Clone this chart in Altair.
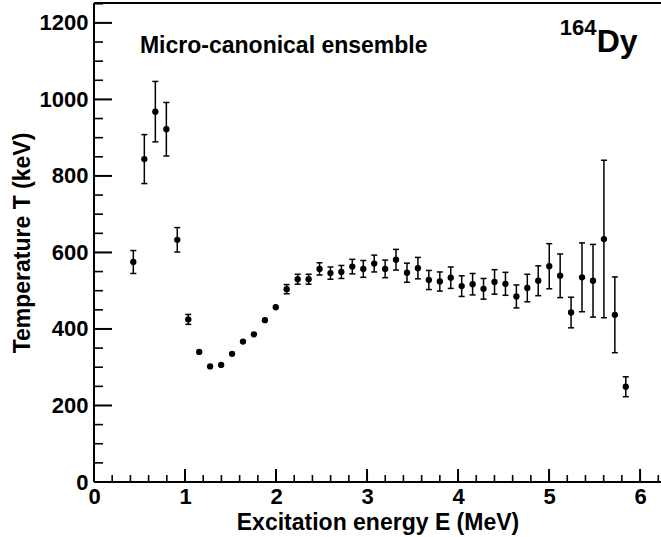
import altair as alt
import pandas as pd

# Data
energy = [0.432, 0.553, 0.674, 0.795, 0.915, 1.036, 1.156, 1.276, 1.397, 1.517,
          1.637, 1.757, 1.878, 1.997, 2.117, 2.238, 2.358, 2.478, 2.598, 2.718,
          2.838, 2.959, 3.079, 3.199, 3.318, 3.439, 3.559, 3.679, 3.800, 3.920,
          4.040, 4.160, 4.280, 4.401, 4.521, 4.641, 4.761, 4.881, 5.002, 5.122,
          5.242, 5.362, 5.483, 5.603, 5.723, 5.843]
temperature = [575, 844, 968, 922, 633, 425, 340, 302, 306, 335,
               367, 386, 423, 457, 504, 530, 530, 557, 546, 549,
               563, 557, 571, 557, 581, 547, 559, 528, 524, 534,
               512, 517, 505, 523, 518, 485, 507, 526, 564, 539,
               443, 535, 526, 635, 437, 249]
error = [30, 64, 79, 70, 32, 13, 5, 5, 5, 5,
         5, 6, 7, 8, 12, 13, 13, 16, 16, 17,
         19, 22, 22, 23, 27, 25, 28, 25, 25, 28,
         27, 28, 27, 32, 30, 30, 36, 39, 59, 57,
         40, 90, 95, 206, 99, 26]

x_major = [0, 1, 2, 3, 4, 5, 6]
x_minor = [round(0.2 * i, 1) for i in range(32) if i % 5 != 0]
y_major = [0, 200, 400, 600, 800, 1000, 1200]
y_minor = [50 * i for i in range(26) if i % 4 != 0]

X_MAX = 6.23
Y_MAX = 1252
W, H = 567, 479
FONT = "Liberation Sans"

df = pd.DataFrame({"E": energy, "T": temperature, "err": error})
df["lo"] = df["T"] - df["err"]
df["hi"] = df["T"] + df["err"]

xs = alt.Scale(domain=[0, X_MAX], nice=False, zero=False)
ys = alt.Scale(domain=[0, Y_MAX], nice=False, zero=False)

x_axis = alt.Axis(values=x_major, title="Excitation energy E (MeV)", grid=False,
                  domain=False, ticks=False, tickSize=0, labelPadding=4,
                  labelFlush=False, labelOverlap=False, format="d",
                  labelFont=FONT, labelFontWeight="bold", labelFontSize=22,
                  titleFont=FONT, titleFontWeight="bold", titleFontSize=23,
                  titlePadding=4, labelColor="black", titleColor="black")
y_axis = alt.Axis(values=y_major, title="Temperature T (keV)", grid=False,
                  domain=False, ticks=False, tickSize=0, labelPadding=6,
                  labelOverlap=False, format="d",
                  labelFont=FONT, labelFontWeight="bold", labelFontSize=22,
                  titleFont=FONT, titleFontWeight="bold", titleFontSize=23,
                  titlePadding=5, labelColor="black", titleColor="black")

points = alt.Chart(df).mark_circle(size=40, color="black", opacity=1).encode(
    x=alt.X("E:Q", scale=xs, axis=x_axis),
    y=alt.Y("T:Q", scale=ys, axis=y_axis),
)
bars = alt.Chart(df).mark_rule(color="black", strokeWidth=1.5).encode(
    x=alt.X("E:Q", scale=xs), y=alt.Y("lo:Q", scale=ys), y2="hi:Q")
cap_lo = alt.Chart(df).transform_filter("datum.err > 10").mark_tick(
    color="black", orient="horizontal", size=6, thickness=1.5, opacity=1).encode(
    x=alt.X("E:Q", scale=xs), y=alt.Y("lo:Q", scale=ys))
cap_hi = alt.Chart(df).transform_filter("datum.err > 10").mark_tick(
    color="black", orient="horizontal", size=6, thickness=1.5, opacity=1).encode(
    x=alt.X("E:Q", scale=xs), y=alt.Y("hi:Q", scale=ys))

ymaj = alt.Chart(pd.DataFrame({"v": y_major})).mark_rule(color="black", strokeWidth=2).encode(
    y=alt.Y("v:Q", scale=ys), x=alt.value(0), x2=alt.value(18))
ymin = alt.Chart(pd.DataFrame({"v": y_minor})).mark_rule(color="black", strokeWidth=1.6).encode(
    y=alt.Y("v:Q", scale=ys), x=alt.value(0), x2=alt.value(9))
xmaj = alt.Chart(pd.DataFrame({"v": x_major})).mark_rule(color="black", strokeWidth=2).encode(
    x=alt.X("v:Q", scale=xs), y=alt.value(H), y2=alt.value(H - 13))
xmin = alt.Chart(pd.DataFrame({"v": x_minor})).mark_rule(color="black", strokeWidth=1.6).encode(
    x=alt.X("v:Q", scale=xs), y=alt.value(H), y2=alt.value(H - 7))

frame_left = alt.Chart(pd.DataFrame({"v": [0]})).mark_rule(color="black", strokeWidth=2).encode(
    x=alt.value(0), y=alt.value(0), y2=alt.value(H))
frame_top = alt.Chart(pd.DataFrame({"v": [0]})).mark_rule(color="black", strokeWidth=2).encode(
    x=alt.value(0), x2=alt.value(W), y=alt.value(0))
frame_bottom = alt.Chart(pd.DataFrame({"v": [0]})).mark_rule(color="black", strokeWidth=2).encode(
    x=alt.value(0), x2=alt.value(W), y=alt.value(H))

ann_main = alt.Chart(pd.DataFrame({"E": [0.505], "T": [1122], "t": ["Micro-canonical ensemble"]})).mark_text(
    align="left", baseline="alphabetic", font=FONT, fontWeight="bold", fontSize=23, color="black").encode(
    x=alt.X("E:Q", scale=xs), y=alt.Y("T:Q", scale=ys), text="t:N")
ann_mass = alt.Chart(pd.DataFrame({"E": [5.118], "T": [1169], "t": ["164"]})).mark_text(
    align="left", baseline="alphabetic", font=FONT, fontWeight="bold", fontSize=22, color="black").encode(
    x=alt.X("E:Q", scale=xs), y=alt.Y("T:Q", scale=ys), text="t:N")
ann_el = alt.Chart(pd.DataFrame({"E": [5.524], "T": [1124], "t": ["Dy"]})).mark_text(
    align="left", baseline="alphabetic", font=FONT, fontWeight="bold", fontSize=32, color="black").encode(
    x=alt.X("E:Q", scale=xs), y=alt.Y("T:Q", scale=ys), text="t:N")

chart = alt.layer(points, bars, cap_lo, cap_hi, ymaj, ymin, xmaj, xmin,
                  frame_left, frame_top, frame_bottom,
                  ann_main, ann_mass, ann_el).properties(
    width=W, height=H,
    autosize=alt.AutoSizeParams(type="none"),
    padding={"left": 94, "top": 3, "right": 0, "bottom": 55},
).configure_view(strokeWidth=0).configure(background="white")

chart.save("out.html", embed_options={"renderer": "svg", "actions": False})
